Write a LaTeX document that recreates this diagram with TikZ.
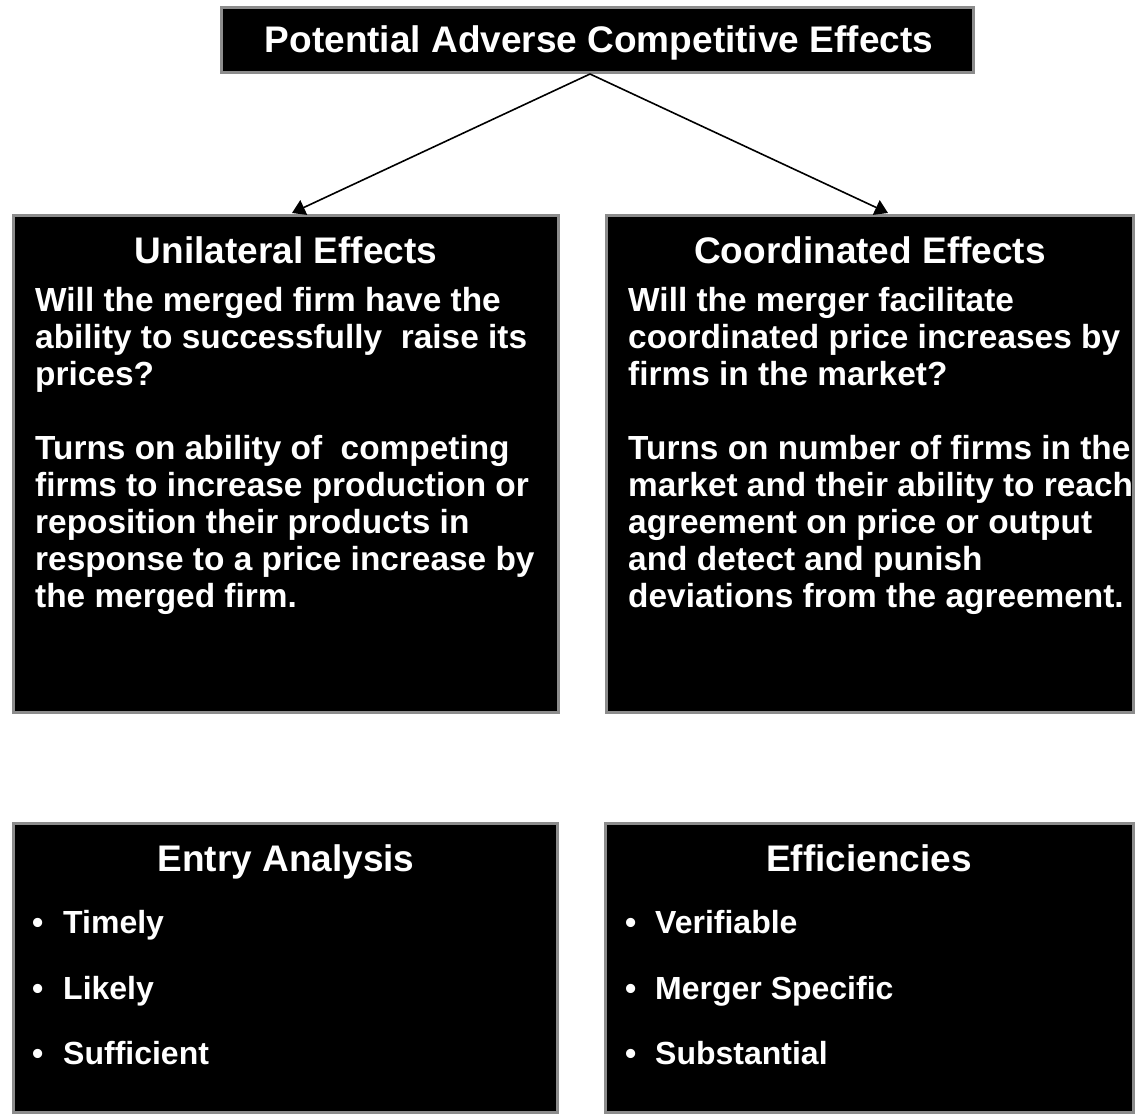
\documentclass[tikz,border=0pt]{standalone}
\usepackage{fontspec}
\setmainfont{Liberation Sans}
\usetikzlibrary{arrows.meta}
\begin{document}
\begin{tikzpicture}[x=1pt,y=-1pt,
  panel/.style={draw=black!45, line width=3pt, fill=black},
  titletext/.style={text=white, font=\bfseries\fontsize{37}{44}\selectfont, inner sep=0},
  headtext/.style={text=white, font=\bfseries\fontsize{37}{44}\selectfont, inner sep=0},
  bodytext/.style={text=white, font=\bfseries\fontsize{33.4}{37}\selectfont, inner sep=0, anchor=base west},
  itemtext/.style={text=white, font=\bfseries\fontsize{32}{37}\selectfont, inner sep=0, anchor=base west},
  link/.style={line width=1.6pt, -{Triangle[length=13pt,width=16pt]}}]
\useasboundingbox (0,0) rectangle (1138,1116);

% panels
\path[panel] (221,8) rectangle (973,73);
\path[panel] (13,215) rectangle (558,712);
\path[panel] (606,215) rectangle (1133,712);
\path[panel] (13,823) rectangle (557,1112);
\path[panel] (605,823) rectangle (1133,1112);

\node[titletext, anchor=base] (title) at (599,53) {Potential Adverse Competitive Effects};
\coordinate (apex) at (590,74);

% connectors
\coordinate (uniIn) at (292,213);
\coordinate (cooIn) at (888,213);
\draw[link] (apex) -- (uniIn);
\draw[link] (apex) -- (cooIn);

% unilateral effects
\node[headtext, anchor=base] (uniHead) at (286,263) {Unilateral Effects};
\foreach \t [count=\i] in {Will the merged firm have the,
  ability to successfully\ \ raise its, prices?}
  \node[bodytext] (uniQ\i) at (35,274+37*\i) {\t};
\foreach \t [count=\i] in {Turns on ability of\ \ competing,
  firms to increase production or, reposition their products in,
  response to a price increase by, the merged firm.}
  \node[bodytext] (uniA\i) at (35,422+37*\i) {\t};

% coordinated effects
\node[headtext, anchor=base] (cooHead) at (870,263) {Coordinated Effects};
\foreach \t [count=\i] in {Will the merger facilitate,
  coordinated price increases by, firms in the market?}
  \node[bodytext] (cooQ\i) at (628,274+37*\i) {\t};
\foreach \t [count=\i] in {Turns on number of firms in the,
  market and their ability to reach, agreement on price or output,
  and detect and punish, deviations from the agreement.}
  \node[bodytext] (cooA\i) at (628,422+37*\i) {\t};

% entry analysis
\node[headtext, anchor=base] (entHead) at (286,871) {Entry Analysis};
\foreach \t [count=\i] in {Timely, Likely, Sufficient} {
  \node[itemtext] (entB\i) at (32,868+65.5*\i) {\textbullet};
  \node[itemtext] (entT\i) at (63,868+65.5*\i) {\t};
}

% efficiencies
\node[headtext, anchor=base] (effHead) at (869,871) {Efficiencies};
\foreach \t [count=\i] in {Verifiable, Merger Specific, Substantial} {
  \node[itemtext] (effB\i) at (625,868+65.5*\i) {\textbullet};
  \node[itemtext] (effT\i) at (655,868+65.5*\i) {\t};
}
\end{tikzpicture}
\end{document}
